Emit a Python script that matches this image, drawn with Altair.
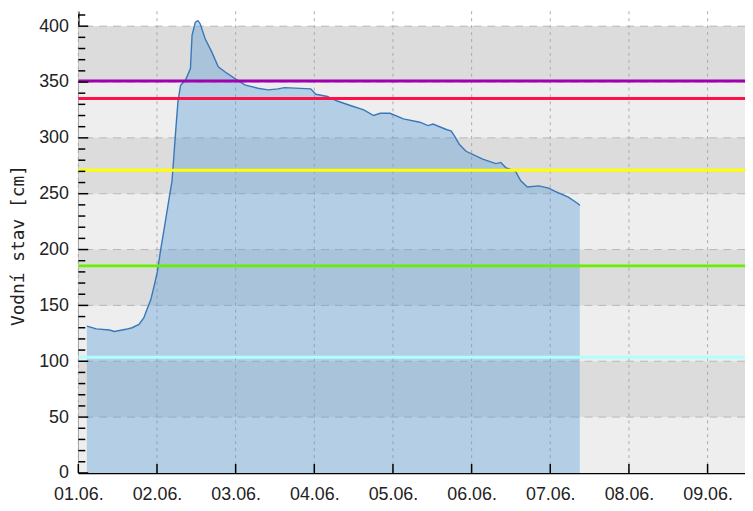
import altair as alt
import pandas as pd

# ---- data ----
hours = [2.6, 5.5, 9.5, 11.0, 14.5, 16.4, 18.5, 20.0, 20.9, 22.1,
         23.1, 24.1, 25.1, 26.1, 27.6, 28.6, 29.7, 30.4, 31.2, 32.7,
         34.2, 34.7, 35.7, 36.5, 37.2, 38.7, 40.7, 42.7, 44.8, 47.8,
         50.8, 54.8, 57.9, 60.9, 62.9, 70.9, 72.5, 76.0, 79.0, 83.0,
         87.1, 90.1, 92.1, 95.1, 99.2, 104.2, 106.7, 108.2, 112.3, 113.8,
         114.8, 116.3, 118.3, 123.4, 127.4, 128.9, 130.4, 133.4, 135.0, 137.0,
         140.5, 143.5, 145.5, 149.5, 152.5, 153.0]
levels = [131.5, 129, 128, 126.6, 128.6, 130, 133, 139, 146, 155,
          167, 180, 199.5, 217, 244, 261.6, 306, 332.6, 347, 351.8,
          362, 391.7, 403.5, 405, 402, 388.7, 377, 363.6, 359, 353,
          347.4, 344.4, 343, 343.9, 345, 343.9, 339, 337, 333, 329,
          325, 320, 322, 322, 317, 314, 311, 312.4, 307.5, 306,
          301.6, 294, 288, 281, 277, 278, 273.4, 270, 261.6, 256,
          257, 255, 252, 247, 241, 239.5]

threshold_values = [103.5, 185.4, 271, 335.3, 351]
threshold_colors = ["#b0ffff", "#66f000", "#ffff00", "#ff1048", "#a000b0"]

dark_band_lo = [50, 150, 250, 350]
dark_band_hi = [100, 200, 300, 400]
grid_values = [50, 100, 150, 200, 250, 300, 350, 400]
major_ticks = [0, 50, 100, 150, 200, 250, 300, 350, 400]
minor_ticks = [v for v in range(10, 420, 10) if v % 50 != 0]
days = [1, 2, 3, 4, 5, 6, 7, 8, 9]
y_title = "Vodní stav [cm]"

W, H = 673, 466
base = pd.Timestamp("2024-06-01")

df = pd.DataFrame({
    "t": (base + pd.to_timedelta(hours, unit="h")).strftime("%Y-%m-%dT%H:%M:%S"),
    "level": levels,
})
thr = pd.DataFrame({"v": threshold_values, "c": threshold_colors})
bands = pd.DataFrame({"lo": dark_band_lo, "hi": dark_band_hi})
light = pd.DataFrame({"lo": [0], "hi": [400]})
hgrid = pd.DataFrame({"v": grid_values})
day_df = pd.DataFrame({"t": [f"2024-06-{d:02d}T00:00:00" for d in days]})
major_df = pd.DataFrame({"v": major_ticks})
minor_df = pd.DataFrame({"v": minor_ticks})

xscale = alt.Scale(domain=[alt.DateTime(year=2024, month=6, date=1),
                           alt.DateTime(year=2024, month=6, date=9, hours=11, minutes=25)])
yscale = alt.Scale(domain=[0, 413.3], nice=False, zero=True)

xaxis = alt.Axis(values=[alt.DateTime(year=2024, month=6, date=d) for d in days],
                 format="%d.%m.")
yaxis = alt.Axis(values=major_ticks)


def X(field):
    return alt.X(field, scale=xscale, axis=xaxis, title="")


def Y(field):
    return alt.Y(field, scale=yscale, axis=yaxis, title=y_title)


bg = alt.Chart(light).mark_rect(color="#eeeeee").encode(
    x=alt.value(0), x2=alt.value(W), y=Y("lo:Q"), y2="hi:Q")

dark = alt.Chart(bands).mark_rect(color="#dcdcdc").encode(
    x=alt.value(0), x2=alt.value(W), y=Y("lo:Q"), y2="hi:Q")

hg = alt.Chart(hgrid).mark_rule(color="#b8b8b8", strokeDash=[8, 6], strokeWidth=1).encode(
    y=Y("v:Q"))

vg = alt.Chart(day_df).mark_rule(color="#aaaaaa", strokeDash=[3, 4], strokeWidth=1).encode(
    x=X("t:T"))

area = alt.Chart(df).mark_area(color="#4f97d6", opacity=0.37).encode(
    x=X("t:T"), y=Y("level:Q"))

line = alt.Chart(df).mark_line(color="#3878b8", strokeWidth=1.4).encode(
    x=X("t:T"), y=Y("level:Q"))

thr_rules = alt.Chart(thr).mark_rule(strokeWidth=3).encode(
    y=Y("v:Q"), color=alt.Color("c:N", scale=None))

xt = alt.Chart(day_df).mark_rule(color="#000000", strokeWidth=1.5).encode(
    x=X("t:T"), y=alt.value(H), y2=alt.value(H - 9))

ymaj = alt.Chart(major_df).mark_rule(color="#000000", strokeWidth=1.5).encode(
    y=Y("v:Q"), x=alt.value(0), x2=alt.value(10))

ymin = alt.Chart(minor_df).mark_rule(color="#000000", strokeWidth=1.5).encode(
    y=Y("v:Q"), x=alt.value(0), x2=alt.value(7))

chart = alt.layer(bg, dark, hg, vg, area, line, thr_rules, xt, ymaj, ymin).properties(
    width=W, height=H,
    autosize=alt.AutoSizeParams(type="none"),
    padding={"left": 71, "top": 1, "right": 0, "bottom": 28},
    background="#ffffff",
).configure_view(stroke=None).configure_axis(
    zindex=1, ticks=False, grid=False, domainColor="#000000", domainWidth=1.5,
    labelFontSize=18, labelFont="Liberation Sans", labelColor="#222222",
).configure_axisX(
    labelPadding=13, labelFlush=False,
).configure_axisY(
    labelPadding=10, titleFont="DejaVu Sans Mono", titleFontSize=18,
    titleFontWeight="normal", titleColor="#222222",
    titleX=-60, titleY=236, titleAngle=270, titleAlign="center", titleBaseline="middle",
)

chart.save("out.html", embed_options={"renderer": "svg", "actions": False})
